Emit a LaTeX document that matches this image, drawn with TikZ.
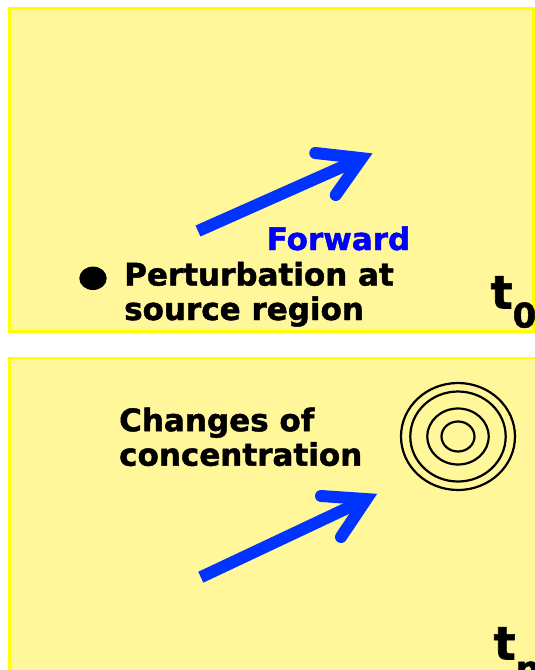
\documentclass[tikz,border=0pt]{standalone}
\usepackage{fontspec}
\setmainfont{DejaVu Sans}[BoldFeatures={FakeBold=1.5}]
\definecolor{boxfill}{RGB}{255,247,153}
\definecolor{boxline}{RGB}{255,255,0}
\definecolor{arrowblue}{RGB}{0,51,255}
\definecolor{textblue}{RGB}{0,0,255}
\begin{document}
\begin{tikzpicture}[x=1pt,y=-1pt,
  panel/.style={fill=boxfill,draw=boxline,line width=2.7pt},
  lbl/.style={font=\bfseries\fontsize{31}{34.5}\selectfont,inner sep=0pt,anchor=base west,align=left},
  shaft/.style={draw=arrowblue,line width=12pt,line cap=butt},
  barb/.style={draw=arrowblue,line width=12pt,line cap=round,line join=miter},
  ring/.style={draw=black,line width=2.2pt},
  tlabel/.style={font=\bfseries\fontsize{46}{46}\selectfont,inner sep=0pt,anchor=base west}]
\useasboundingbox (0,0) rectangle (535,670);
\clip (0,0) rectangle (535,670);
\fill[white] (0,0) rectangle (535,670);
% panels
\draw[panel] (9.6,8.7) rectangle (533.7,331.3);
\draw[panel] (9.7,358) rectangle (560,700);
% top arrow
\coordinate (a1tail) at (198,231);
\coordinate (a1end) at (359,159.4);
\coordinate (a1tip) at (361.7,158.2);
\coordinate (a1b1) at (315.3,153);
\coordinate (a1b2) at (335.7,195);
\draw[shaft] (a1tail) -- (a1end);
\draw[barb] (a1b1) -- (a1tip) -- (a1b2);
% bottom arrow
\coordinate (a2tail) at (200.8,577.2);
\coordinate (a2end) at (363.7,500.4);
\coordinate (a2tip) at (366.4,499.1);
\coordinate (a2b1) at (321,496);
\coordinate (a2b2) at (341,537);
\draw[shaft] (a2tail) -- (a2end);
\draw[barb] (a2b1) -- (a2tip) -- (a2b2);
% bullet
\fill[black] (93,278.3) ellipse [x radius=13.7, y radius=11.7];
% rings
\coordinate (rc) at (458,436.5);
\draw[ring] (rc) ellipse [x radius=57, y radius=53.5];
\draw[ring] (rc) ellipse [x radius=47.7, y radius=45];
\draw[ring] (rc) ellipse [x radius=30.7, y radius=28];
\draw[ring] (rc) ellipse [x radius=16.5, y radius=15];
% texts
\node[lbl,text=textblue] (fwd) at (266.5,250) {Forward};
\node[lbl] (pert) at (124,320) {Perturbation at\\source region};
\node[lbl] (chg) at (119,465.7) {Changes of\\concentration};
\node[tlabel] (t0) at (490.5,308.5) {t\raisebox{-19pt}{\fontsize{34}{34}\selectfont 0}};
\node[tlabel] (tn) at (493.5,659.5) {t\raisebox{-21pt}{\fontsize{34}{34}\selectfont n}};
\end{tikzpicture}
\end{document}
